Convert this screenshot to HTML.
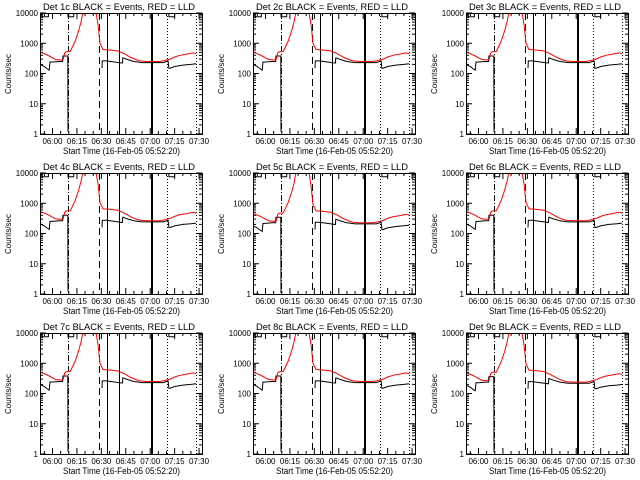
<!DOCTYPE html>
<html><head><meta charset="utf-8"><style>
html,body{margin:0;padding:0;background:#fff;}
svg{display:block;font-family:"Liberation Sans",sans-serif;}
</style></head><body>
<svg id="c" width="640" height="480" viewBox="0 0 640 480"></svg>
<script>
// time in minutes relative to 06:00; axis from 05:52:20
const tickLabels = ["06:00","06:15","06:30","06:45","07:00","07:15","07:30"];
const tickTimes = [0,15,30,45,60,75,90];
const yTickLabels = ["1","10","100","1000","10000"];
const yTickValues = [1,10,100,1000,10000];
const redTimes = [-7.7,-5,-2,0,2,5,6.6,7.5,8.5,10.8,12,14,16,17.5,18.7,26.7,28,29.2,31,35,40,44,47.6,51,53.8,58,62,66,69,72.2,75,78.3,82,86.3,88.2];
const redValues = [510,450,380,330,290,280,290,480,530,530,700,1200,2500,5000,12000,12000,4000,1000,620,600,560,450,350,290,260,250,250,250,270,300,350,400,430,480,450];
const blackTimes = [-7.7,-5,-3,-2,-1.5,0,4,6.2,6.4,8.3,9.4,9.5,9.6];
const blackValues = [200,170,140,130,240,240,250,250,380,380,380,1.2,null];
const black2Times = [30.4,30.6,33,38,42.9,43.2,46,50,55,62,68,71,71.5,72.2,75,80,85,88.2];
const black2Values = [150,260,260,240,220,330,290,250,230,230,230,260,150,150,170,190,200,210];
const topTimes = [-7.7,-6.5,-6.5,-2.5,-2.5];
const topValues = [20000,20000,7500,7500,20000];
const top2Times = [9.5,9.5,13,13];
const top2Values = [20000,7500,7500,20000];
const top3Times = [71.5,71.5,75,75];
const top3Values = [20000,7500,7500,20000];
const vlineTimes = [9.5,28.6,33.5,40.9,60.5,61.4,70.3,88.2];
const vlineStyles = ["6,2,1,2","7,4","","","","","1,2","1,2"];
const panelScale = [1,1,1,1.05,0.9,1.05,1,1,0.95];

const svg=document.getElementById('c');
const NS="http://www.w3.org/2000/svg";
function mk(tag,attrs,parent){const e=document.createElementNS(NS,tag);for(const k in attrs)e.setAttribute(k,attrs[k]);parent.appendChild(e);return e;}
const X0=40,X1=202,Y0=13,Y1=134,T0=-7.67,T1=91.8;
for(let p=0;p<9;p++){
  const ox=(p%3)*213, oy=Math.floor(p/3)*160;
  const g=mk('g',{transform:`translate(${ox},${oy})`},svg);
  
  
  const xs=t=>X0+(t-T0)/(T1-T0)*(X1-X0);
  const ys=v=>{const l=Math.log10(v);return Math.max(Y0-0.5,Math.min(Y1,Y1-l/4*(Y1-Y0)));};
  const clip='clip'+p;
  const cp=mk('clipPath',{id:clip},g);mk('rect',{x:X0,y:Y0,width:X1-X0,height:Y1-Y0},cp);
  const ti=mk('text',{x:43,y:10,'font-size':9.5,textLength:152,lengthAdjust:'spacingAndGlyphs'},g);
  ti.textContent=`Det ${p+1}c BLACK = Events, RED = LLD`;
  
  const yl=mk('text',{x:11,y:74,'font-size':8,'text-anchor':'middle',transform:'rotate(-90 11 74)'},g);
  yl.textContent='Counts/sec';
  
  const xl=mk('text',{x:63,y:154,'font-size':9,textLength:117,lengthAdjust:'spacingAndGlyphs'},g);
  xl.textContent='Start Time (16-Feb-05 05:52:20)';
  
  yTickValues.forEach((v,i)=>{const y=ys(v);
    const t=mk('text',{x:38,y:y+3,'font-size':8,'text-anchor':'end'},g);t.textContent=yTickLabels[i];
    
    mk('line',{x1:X0,x2:X0+6,y1:y,y2:y,stroke:'#000'},g);mk('line',{x1:X1-6,x2:X1,y1:y,y2:y,stroke:'#000'},g);
    if(i<4)for(let m=2;m<10;m++){const yy=ys(v*m);mk('line',{x1:X0,x2:X0+3,y1:yy,y2:yy,stroke:'#000'},g);mk('line',{x1:X1-3,x2:X1,y1:yy,y2:yy,stroke:'#000'},g);}
  });
  tickTimes.forEach((t,i)=>{const x=xs(t);
    const l=mk('text',{x:x,y:144,'font-size':8,'text-anchor':'middle'},g);l.textContent=tickLabels[i];
    
    mk('line',{x1:x,x2:x,y1:Y1,y2:Y1-6,stroke:'#000'},g);mk('line',{x1:x,x2:x,y1:Y0,y2:Y0+6,stroke:'#000'},g);
  });
  for(let t=-5;t<T1;t+=5){if(t%15===0)continue;const x=xs(t);mk('line',{x1:x,x2:x,y1:Y1,y2:Y1-3,stroke:'#000'},g);mk('line',{x1:x,x2:x,y1:Y0,y2:Y0+3,stroke:'#000'},g);}
  const pg=mk('g',{'clip-path':`url(#${clip})`},g);
  vlineTimes.forEach((t,i)=>{const x=Math.round(xs(t))+0.5;const a={x1:x,x2:x,y1:Y0,y2:Y1,stroke:'#000','stroke-width':1};if(vlineStyles[i])a['stroke-dasharray']=vlineStyles[i];
    const l=mk('line',a,pg);});
  const poly=(ts,vs,col,name,sc)=>{let d='';let pen=false;ts.forEach((t,i)=>{const v=vs[i];if(v==null){pen=false;return;}d+=(pen?'L':'M')+xs(t).toFixed(1)+' '+ys(v*sc).toFixed(1);pen=true;});
    const e=mk('path',{d:d,fill:'none',stroke:col,'stroke-width':1},pg);};
  const s=panelScale[p];
  poly(blackTimes,blackValues,'#000','events-series',s);
  poly(black2Times,black2Values,'#000','events-series-late',s);
  poly(topTimes,topValues,'#000','events-saturated-a',1);
  poly(top2Times,top2Values,'#000','events-saturated-b',1);
  poly(top3Times,top3Values,'#000','events-saturated-c',1);
  poly(redTimes,redValues,'#f00','lld-series',s);
  const fr=mk('rect',{x:X0+0.5,y:Y0+0.5,width:X1-X0,height:Y1-Y0,fill:'none',stroke:'#000'},g);
  
}
</script>
</body></html>
